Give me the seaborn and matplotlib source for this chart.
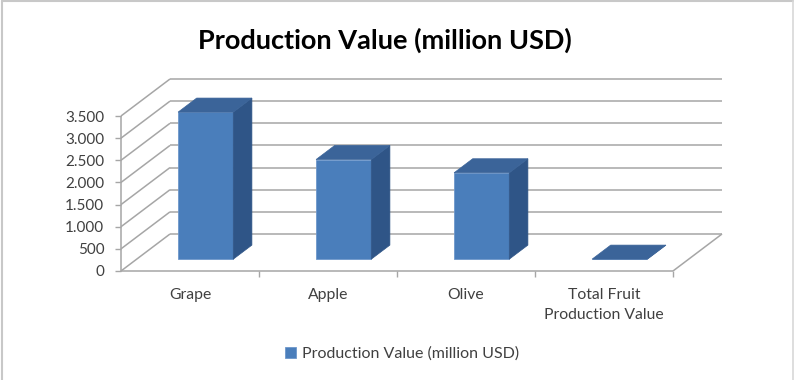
import matplotlib
matplotlib.use("Agg")
import matplotlib.pyplot as plt
from matplotlib.patches import Polygon
from matplotlib.lines import Line2D
import seaborn as sns
import pandas as pd

# ---- data -------------------------------------------------------------
categories = ["Grape", "Apple", "Olive", "Total Fruit\nProduction Value"]
values = [3320, 2250, 1950, 0]
series_name = "Production Value (million USD)"
y_ticks = [0, 500, 1000, 1500, 2000, 2500, 3000, 3500]
y_tick_labels = ["0", "500", "1.000", "1.500", "2.000", "2.500", "3.000", "3.500"]

# ---- style ------------------------------------------------------------
sns.set_theme(style="white")
plt.rcParams["font.family"] = ["Lato", "DejaVu Sans"]

FRONT = "#4A7EBB"
SIDE = "#2F5587"
TOP = "#3B6499"
GRID = "#A6A6A6"
TEXT = "#404040"

W, H, DPI = 794, 380, 100
fig = plt.figure(figsize=(W / DPI, H / DPI), dpi=DPI)
fig.patch.set_facecolor("white")

# front plane of the plot box, in pixels
x_left, x_right = 121, 673
y_zero, y_top = 271, 116
ax = fig.add_axes([x_left / W, 1 - y_zero / H,
                   (x_right - x_left) / W, (y_zero - y_top) / H])
ax.set_xlim(-0.5, len(categories) - 0.5)
ax.set_ylim(0, y_ticks[-1])
ax.patch.set_alpha(0)
for s in ax.spines.values():
    s.set_visible(False)

# pixel -> data conversion for the oblique depth axis
kx = (len(categories)) / (x_right - x_left)
ky = y_ticks[-1] / (y_zero - y_top)
depth_x, depth_y = 49 * kx, 37 * ky          # full floor depth
bar_front, bar_back = 0.32, 0.70             # bar slab position along depth

x0, x1 = -0.5, len(categories) - 0.5
line_kw = dict(color=GRID, lw=1.1, clip_on=False, zorder=1,
               solid_capstyle="butt")

# back wall gridlines and side-wall diagonals
for v in y_ticks:
    ax.plot([x0 + depth_x, x1 + depth_x], [v + depth_y, v + depth_y], **line_kw)
    ax.plot([x0, x0 + depth_x], [v, v + depth_y], **line_kw)
# floor edges and value axis
ax.plot([x0, x1], [0, 0], **line_kw)
ax.plot([x1, x1 + depth_x], [0, depth_y], **line_kw)
ax.plot([x0, x0], [0, y_ticks[-1]], **line_kw)

# ---- bars ---------------------------------------------------------------
df = pd.DataFrame({"category": categories, "value": values})
sns.barplot(data=df, x="category", y="value", ax=ax, width=0.4,
            color=FRONT, saturation=1, label=series_name,
            edgecolor="#6E97CB", linewidth=0.6, zorder=3)
ax.set_xlim(-0.5, len(categories) - 0.5)
ax.set_ylim(0, y_ticks[-1])

fx, fy = bar_front * depth_x, bar_front * depth_y
bx, by = (bar_back - bar_front) * depth_x, (bar_back - bar_front) * depth_y
for p in list(ax.patches):
    x, w, h = p.get_x(), p.get_width(), p.get_height()
    x, y = x + fx, fy
    p.set_x(x)
    p.set_y(y)
    p.set_clip_on(False)
    side = Polygon([(x + w, y), (x + w + bx, y + by),
                    (x + w + bx, y + h + by), (x + w, y + h)],
                   closed=True, facecolor=SIDE, edgecolor=SIDE, lw=0.5,
                   clip_on=False, zorder=3)
    top = Polygon([(x, y + h), (x + bx, y + h + by),
                   (x + w + bx, y + h + by), (x + w, y + h)],
                  closed=True, facecolor=TOP, edgecolor=TOP, lw=0.5,
                  clip_on=False, zorder=3)
    ax.add_patch(side)
    ax.add_patch(top)

# ---- axes text ----------------------------------------------------------
ax.set_xlabel("")
ax.set_ylabel("")
ax.set_yticks(y_ticks)
ax.set_yticklabels(y_tick_labels)
ax.tick_params(axis="y", which="major", left=True, length=4, width=1,
               color=GRID, pad=8, labelsize=11, labelcolor=TEXT)
ax.set_xticks(range(len(categories)))
ax.set_xticklabels(categories, linespacing=1.6)
ax.tick_params(axis="x", which="major", bottom=False, length=0, pad=12,
               labelsize=11.3, labelcolor=TEXT)
ax.set_xticks([i + 0.5 for i in range(len(categories))], minor=True)
ax.tick_params(axis="x", which="minor", bottom=True, length=4, width=1,
               color=GRID, direction="out")

fig.text(385 / W, 1 - 40 / H, series_name, ha="center", va="center",
         fontsize=19.5, fontweight="bold", color="black")

leg = ax.legend(loc="center", bbox_to_anchor=(402 / W, 1 - 354 / H),
                bbox_transform=fig.transFigure, frameon=False,
                fontsize=11.5, handlelength=0.7, handleheight=0.7,
                handletextpad=0.35, labelcolor=TEXT)

# chart-area border
fig.add_artist(Line2D([2 / W, 2 / W], [0, 1 - 1 / H], color="#C8C8C8", lw=1.5))
fig.add_artist(Line2D([2 / W, 793 / W], [1 - 1 / H, 1 - 1 / H], color="#C8C8C8", lw=1.5))
fig.add_artist(Line2D([793 / W, 793 / W], [0, 1 - 1 / H], color="#D8D8D8", lw=1.2))

fig.savefig("out.png", dpi=DPI, facecolor="white")
